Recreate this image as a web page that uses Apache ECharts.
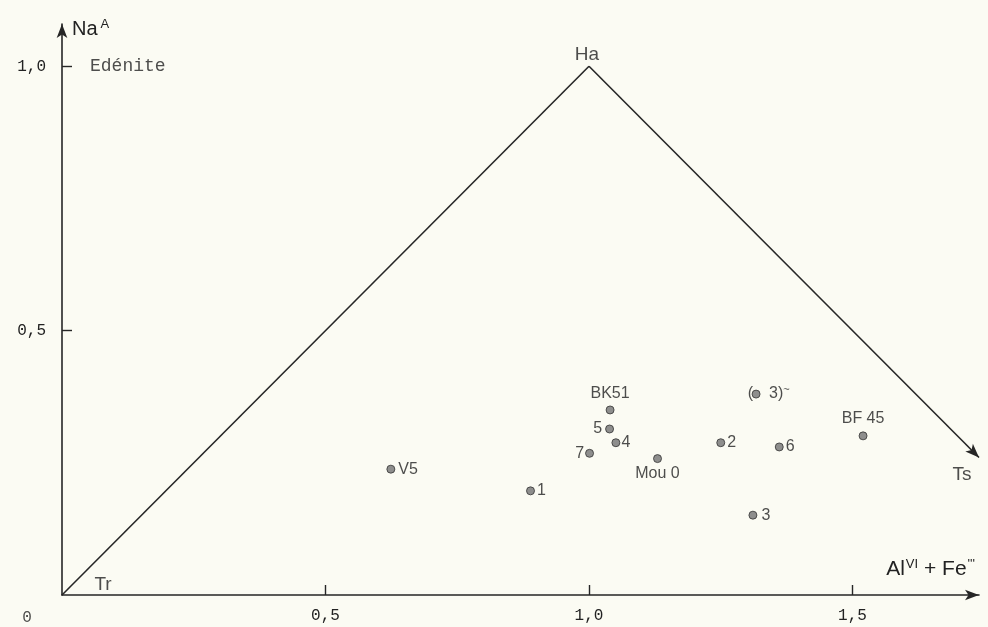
<!DOCTYPE html>
<html>
<head>
<meta charset="utf-8">
<script src="https://cdn.jsdelivr.net/npm/echarts@6/dist/echarts.min.js"></script>
<style>
  html, body { margin: 0; padding: 0; background: #fbfbf3; }
  #chart { width: 988px; height: 627px; }
</style>
</head>
<body>
<div id="chart"></div>
<script>
// Amphibole analyses: Al(VI) + Fe''' against Na in the A site
const sampleNames = ['V5', '1', 'BK51', '5', '4', '7', 'Mou 0', '2', '(3)', '6', 'BF 45', '3'];
const alFe3 = [0.624, 0.889, 1.040, 1.039, 1.051, 1.001, 1.130, 1.250, 1.317, 1.361, 1.520, 1.311];
const naSiteA = [0.238, 0.197, 0.350, 0.314, 0.288, 0.268, 0.258, 0.288, 0.380, 0.280, 0.301, 0.151];

// End members: tremolite, hornblende, and the direction towards tschermakite
const trPoint = [0, 0];
const haPoint = [1, 1];
const tsArrowEnd = [1.74, 0.26];
const edenitePoint = [0, 1];

const xTickValues = [0.5, 1.0, 1.5];
const yTickValues = [0.5, 1.0];

// where each sample's name sits relative to its dot
const labelPlacement = {
  'V5': ['right', 3], '1': ['right', 2], 'BK51': ['top', 4], '5': ['left', 3],
  '4': ['right', 1], '7': ['left', 1], 'Mou 0': ['bottom', 2], '2': ['right', 2],
  '(3)': ['right', 4], '6': ['right', 2], 'BF 45': ['top', 5], '3': ['right', 4]
};

const ink = '#262626';
const textInk = '#222222';
const sans = 'Liberation Sans, Arial, sans-serif';
const mono = 'Liberation Mono, DejaVu Sans Mono, monospace';
const comma = v => v.toFixed(1).replace('.', ',');

const sampleData = sampleNames.map((name, i) => {
  const [pos, dist] = labelPlacement[name];
  const text = name === '(3)' ? ' 3){t|~}' : name;
  return {
    name: name,
    value: [alFe3[i], naSiteA[i]],
    label: { position: pos, distance: dist, formatter: text }
  };
});

const bracketIdx = sampleNames.indexOf('(3)');

const chart = echarts.init(document.getElementById('chart'), null, { renderer: 'canvas' });

chart.setOption({
  backgroundColor: '#fbfbf3',
  animation: false,
  grid: { left: 62, right: 9, top: 24, bottom: 32, containLabel: false, outerBoundsMode: 'none' },
  xAxis: {
    type: 'value', min: 0, max: 1.74,
    splitLine: { show: false },
    axisLine: { lineStyle: { color: ink, width: 1.6 }, symbol: ['none', 'arrow'], symbolSize: [8, 14] },
    axisTick: { inside: true, length: 10, lineStyle: { color: ink, width: 1.4 }, customValues: xTickValues },
    axisLabel: { customValues: xTickValues, formatter: comma, margin: 13, fontFamily: mono, fontSize: 16, color: textInk },
    name: 'Al{sup|VI} + Fe{sup|\'\'\'}',
    nameLocation: 'end', nameGap: -4, nameMoveOverlap: false,
    nameTextStyle: {
      align: 'right', verticalAlign: 'bottom', padding: [0, 0, 14, 0],
      fontFamily: sans, fontSize: 21, color: textInk,
      rich: { sup: { fontFamily: sans, fontSize: 13, color: textInk, verticalAlign: 'top', padding: [0, 0, 10, 1] } }
    }
  },
  yAxis: {
    type: 'value', min: 0, max: 1.08,
    splitLine: { show: false },
    axisLine: { lineStyle: { color: ink, width: 1.6 }, symbol: ['none', 'arrow'], symbolSize: [8, 14] },
    axisTick: { inside: true, length: 10, lineStyle: { color: ink, width: 1.4 }, customValues: yTickValues },
    axisLabel: { customValues: yTickValues, formatter: comma, margin: 16, fontFamily: mono, fontSize: 16, color: textInk },
    name: 'Na{sup|A}',
    nameLocation: 'end', nameGap: -5, nameMoveOverlap: false,
    nameTextStyle: {
      align: 'left', verticalAlign: 'middle', padding: [0, 0, 0, 10],
      fontFamily: sans, fontSize: 20, color: textInk,
      rich: { sup: { fontFamily: sans, fontSize: 13, color: textInk, verticalAlign: 'top', padding: [0, 0, 10, 3] } }
    }
  },
  series: [
    {
      // triangle Tr – Ha – Ts and the sample points
      type: 'scatter',
      clip: false,
      silent: true,
      symbol: 'circle',
      symbolSize: 8,
      itemStyle: { color: '#737373', borderColor: '#333333', borderWidth: 1 },
      label: {
        show: true, fontFamily: sans, fontSize: 16, color: textInk,
        rich: { t: { fontFamily: sans, fontSize: 11, color: textInk, padding: [0, 0, 8, 0] } }
      },
      data: sampleData,
      markLine: {
        silent: true,
        symbol: ['none', 'none'],
        label: { show: false },
        lineStyle: { color: ink, width: 1.6, type: 'solid' },
        emphasis: { disabled: true },
        data: [
          [{ coord: trPoint }, { coord: haPoint }],
          [{ coord: haPoint }, { coord: tsArrowEnd, symbol: 'arrow', symbolSize: [8, 14] }]
        ]
      }
    },
    {
      // opening bracket in front of the (3) point
      type: 'scatter', clip: false, silent: true, symbolSize: 0,
      label: { show: true, position: 'left', distance: 3, formatter: '(', fontFamily: sans, fontSize: 16, color: textInk },
      data: [[alFe3[bracketIdx], naSiteA[bracketIdx]]]
    },
    {
      // end-member names and the origin
      type: 'scatter', clip: false, silent: true, symbolSize: 0,
      label: { show: true, position: 'inside', fontFamily: sans, fontSize: 19, color: textInk, formatter: p => p.name },
      data: [
        { name: 'Tr', value: trPoint, label: { offset: [41, -10] } },
        { name: 'Ha', value: haPoint, label: { offset: [-2, -12] } },
        { name: 'Ts', value: tsArrowEnd, label: { offset: [-17, 17] } },
        { name: '0', value: trPoint, label: { offset: [-35, 23], fontFamily: mono, fontSize: 16 } },
        { name: 'Edénite', value: edenitePoint, label: { position: 'right', distance: 28, fontFamily: mono, fontSize: 18 } }
      ]
    }
  ]
});
</script>
</body>
</html>
